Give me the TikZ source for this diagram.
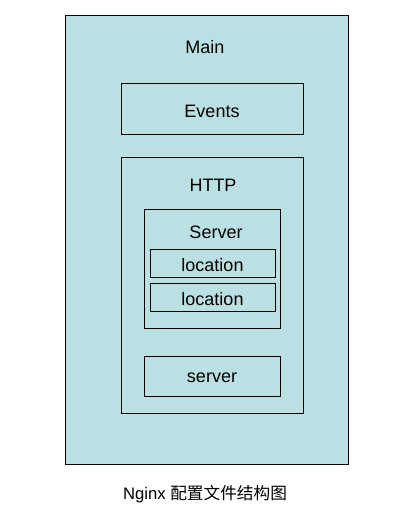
\documentclass[tikz,border=0pt]{standalone}
\usepackage{fontspec}
\setmainfont{Liberation Sans}
\newfontfamily\cjkfont{Noto Sans CJK SC}
\usetikzlibrary{fit, backgrounds}

\definecolor{nginxfill}{HTML}{BBE0E3}

\begin{document}
\begin{tikzpicture}[
    x=0.75pt, y=-0.75pt,
    font=\fontsize{13.5}{16}\selectfont,
    % Node styles
    blockbox/.style={
        rectangle, draw=black, fill=nginxfill,
        line width=0.75pt, inner sep=0pt
    },
    titlelbl/.style={inner sep=0pt},
    centerlbl/.style={inner sep=0pt, yshift=-1.5pt},
]
\useasboundingbox (0,0) rectangle (409,520);

%% ---- Corner points ----
\coordinate (mainNW)  at (65,16);   \coordinate (mainSE)  at (348,464);
\coordinate (evNW)    at (121,84);  \coordinate (evSE)    at (303,135);
\coordinate (httpNW)  at (121,158); \coordinate (httpSE)  at (303,413);
\coordinate (srvNW)   at (144,209); \coordinate (srvSE)   at (280,328);
\coordinate (locaNW)  at (150,249); \coordinate (locaSE)  at (275,277);
\coordinate (locbNW)  at (150,283); \coordinate (locbSE)  at (275,311);
\coordinate (srvbNW)  at (144,356); \coordinate (srvbSE)  at (280,396);

%% ---- Main block ----
\node[blockbox, fit=(mainNW)(mainSE)] (main) {};
\node[titlelbl] (mainlbl) at (205,47) {Main};

%% ---- Events block ----
\node[blockbox, fit=(evNW)(evSE)] (events) {};
\node[centerlbl] (eventslbl) at (events.center) {Events};

%% ---- HTTP block ----
\node[blockbox, fit=(httpNW)(httpSE)] (http) {};
\node[titlelbl] (httplbl) at (213,185) {HTTP};

%% ---- Server block with locations ----
\node[blockbox, fit=(srvNW)(srvSE)] (server) {};
\node[titlelbl] (serverlbl) at (216,232) {Server};
\node[blockbox, fit=(locaNW)(locaSE)] (loca) {};
\node[centerlbl] (localbl) at (loca.center) {location};
\node[blockbox, fit=(locbNW)(locbSE)] (locb) {};
\node[centerlbl] (locblbl) at (locb.center) {location};

%% ---- second server ----
\node[blockbox, fit=(srvbNW)(srvbSE)] (serverb) {};
\node[centerlbl] (serverblbl) at (serverb.center) {server};

%% ---- Caption ----
\node[titlelbl, font=\fontsize{12.5}{15}\selectfont] (caption) at (205,494)
    {Nginx {\cjkfont 配置文件结构图}};

\end{tikzpicture}
\end{document}
